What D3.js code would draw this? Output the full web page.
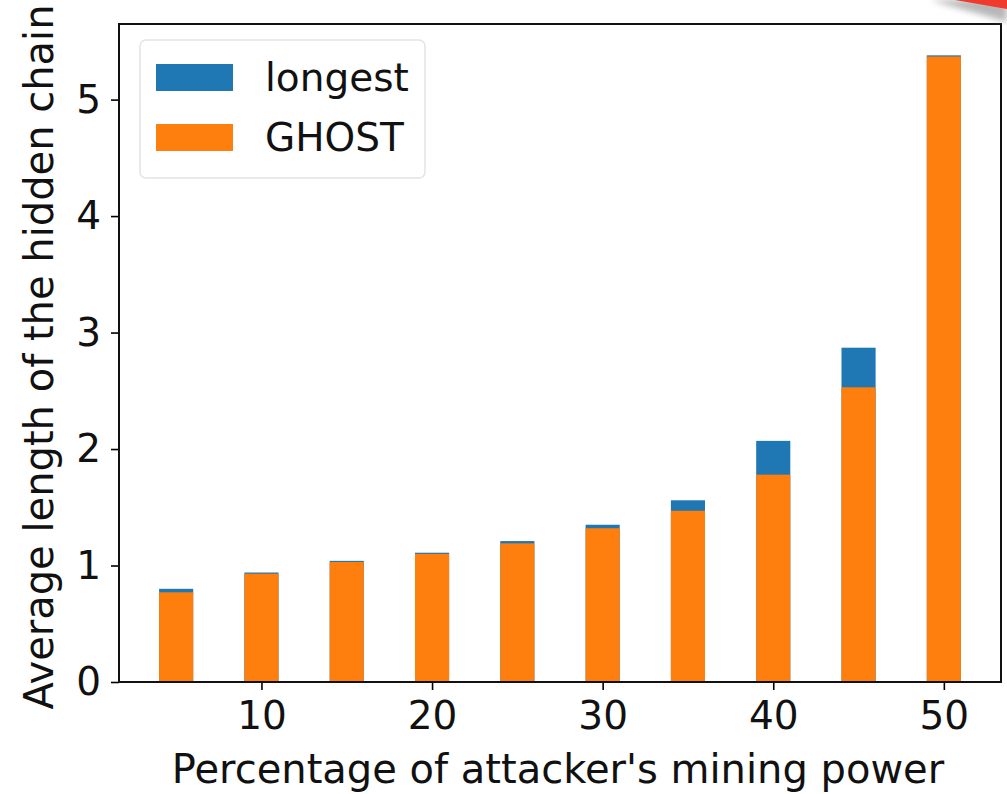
<!DOCTYPE html>
<html>
<head>
<meta charset="utf-8">
<script src="https://cdn.jsdelivr.net/npm/d3@7"></script>
<style>
  html, body { margin: 0; padding: 0; background: #fff; }
  svg { display: block; font-family: "DejaVu Sans", sans-serif; }
</style>
</head>
<body>
<svg id="chart" width="1007" height="794"></svg>
<script>
// Attacker mining power (%) and average hidden-chain length per fork-choice rule
const power = [5, 10, 15, 20, 25, 30, 35, 40, 45, 50];
const longest = [0.80, 0.94, 1.04, 1.11, 1.21, 1.35, 1.56, 2.07, 2.87, 5.38];
const ghost = [0.77, 0.93, 1.03, 1.10, 1.19, 1.32, 1.47, 1.78, 2.53, 5.37];
const xTicks = [10, 20, 30, 40, 50];
const yTicks = [0, 1, 2, 3, 4, 5];
const seriesNames = ["longest", "GHOST"];
const seriesColors = ["#1f77b4", "#ff7f0e"];

const svg = d3.select("#chart");
const plot = { left: 119, right: 1001, top: 24, bottom: 682 };
const barWidth = 2;

// matplotlib-style 5% margins around the bar extents
const xMin = d3.min(power) - barWidth / 2, xMax = d3.max(power) + barWidth / 2;
const xPad = (xMax - xMin) * 0.05;
const x = d3.scaleLinear().domain([xMin - xPad, xMax + xPad]).range([plot.left, plot.right]);
const yMax = d3.max(longest.concat(ghost)) * 1.05;
const y = d3.scaleLinear().domain([0, yMax]).range([plot.bottom, plot.top]);

const series = [longest, ghost];
series.forEach((vals, si) => {
  svg.append("g").selectAll("rect")
    .data(power.map((p, i) => ({ p, v: vals[i] })))
    .join("rect")
    .attr("x", d => x(d.p - barWidth / 2))
    .attr("width", d => x(d.p + barWidth / 2) - x(d.p - barWidth / 2))
    .attr("y", d => y(d.v))
    .attr("height", d => y(0) - y(d.v))
    .attr("fill", seriesColors[si]);
});

// axes
const tickFont = 39, titleFont = 40;
const xAxis = svg.append("g")
  .attr("transform", `translate(0,${plot.bottom})`)
  .call(d3.axisBottom(x).tickValues(xTicks).tickSize(8).tickPadding(11).tickFormat(d3.format("d")));
const yAxis = svg.append("g")
  .attr("transform", `translate(${plot.left},0)`)
  .call(d3.axisLeft(y).tickValues(yTicks).tickSize(8).tickPadding(10).tickFormat(d3.format("d")));
[xAxis, yAxis].forEach(a => {
  a.select(".domain").remove();
  a.selectAll(".tick line").attr("stroke", "#000").attr("stroke-width", 1.6);
  a.selectAll(".tick text").attr("fill", "#111").attr("font-size", tickFont)
    .attr("font-family", "DejaVu Sans, sans-serif");
});

// frame
svg.append("rect")
  .attr("x", plot.left).attr("y", plot.top)
  .attr("width", plot.right - plot.left).attr("height", plot.bottom - plot.top)
  .attr("fill", "none").attr("stroke", "#111").attr("stroke-width", 2);

// axis titles
svg.append("text")
  .attr("x", 558).attr("y", 783)
  .attr("text-anchor", "middle").attr("font-size", titleFont).attr("fill", "#111")
  .text("Percentage of attacker's mining power");
svg.append("text")
  .attr("transform", `translate(53,357) rotate(-90)`)
  .attr("text-anchor", "middle").attr("font-size", titleFont).attr("fill", "#111")
  .text("Average length of the hidden chain");

// legend
const legend = svg.append("g");
legend.append("rect")
  .attr("x", 140).attr("y", 40).attr("width", 285).attr("height", 138).attr("rx", 6)
  .attr("fill", "#fff").attr("fill-opacity", 0.8).attr("stroke", "#e4e4e4").attr("stroke-width", 1.5);
seriesNames.forEach((name, i) => {
  const ly = 64 + i * 60;
  legend.append("rect").attr("x", 156).attr("y", ly).attr("width", 77).attr("height", 27)
    .attr("fill", seriesColors[i]);
  legend.append("text").attr("x", 265).attr("y", ly + 27).attr("font-size", tickFont)
    .attr("fill", "#111").text(name);
});

// red marker stroke in the upper-right corner
const defs = svg.append("defs");
defs.append("filter").attr("id", "soft").append("feGaussianBlur").attr("stdDeviation", 3);
svg.append("path").attr("d", "M930,0 L1007,0 L1007,22 Z").attr("fill", "#999").attr("opacity", 0.7)
  .attr("filter", "url(#soft)");
svg.append("path").attr("d", "M955,0 L1007,0 L1007,9 Z").attr("fill", "#f03a2e");
</script>
</body>
</html>
